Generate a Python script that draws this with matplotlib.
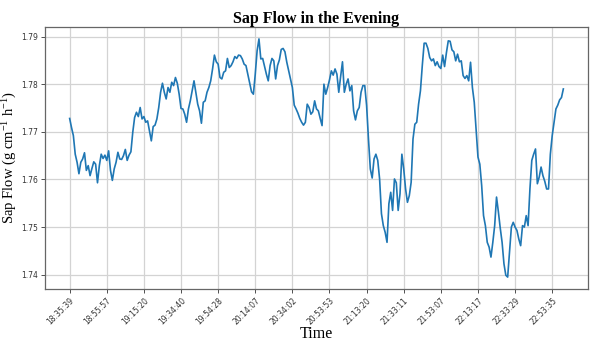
import matplotlib
matplotlib.use("Agg")
import matplotlib.pyplot as plt

# Time stamps shown on the x axis (one label every 20 samples)
time_labels = ["18:35:39", "18:55:57", "19:15:20", "19:34:40", "19:54:28",
               "20:14:07", "20:34:02", "20:53:53", "21:13:20", "21:33:11",
               "21:53:07", "22:13:17", "22:33:29", "22:53:35"]
label_step = 20

# Sap flow readings (g cm-1 h-1)
sap_flow = [
    1.7728, 1.7709, 1.7692, 1.7653, 1.7636, 1.7612, 1.7636, 1.7643, 1.7656, 1.7619,
    1.7629, 1.7608, 1.7623, 1.7637, 1.7632, 1.7593, 1.7629, 1.7653, 1.7644, 1.7651,
    1.7640, 1.7660, 1.7619, 1.7598, 1.7622, 1.7636, 1.7657, 1.7643, 1.7642, 1.7650,
    1.7663, 1.7640, 1.7651, 1.7658, 1.7699, 1.7730, 1.7741, 1.7732, 1.7751, 1.7727,
    1.7732, 1.7720, 1.7723, 1.7702, 1.7681, 1.7711, 1.7714, 1.7727, 1.7751, 1.7783,
    1.7802, 1.7783, 1.7769, 1.7793, 1.7783, 1.7804, 1.7797, 1.7814, 1.7802, 1.7779,
    1.7749, 1.7748, 1.7737, 1.7720, 1.7748, 1.7765, 1.7786, 1.7807, 1.7783, 1.7758,
    1.7744, 1.7718, 1.7762, 1.7765, 1.7783, 1.7793, 1.7807, 1.7832, 1.7861, 1.7847,
    1.7842, 1.7814, 1.7811, 1.7825, 1.7828, 1.7854, 1.7835, 1.7839, 1.7847, 1.7858,
    1.7854, 1.7861, 1.7860, 1.7853, 1.7842, 1.7839, 1.7821, 1.7802, 1.7784, 1.7779,
    1.7821, 1.7870, 1.7895, 1.7853, 1.7854, 1.7837, 1.7821, 1.7807, 1.7839, 1.7854,
    1.7849, 1.7811, 1.7839, 1.7851, 1.7873, 1.7875, 1.7868, 1.7846, 1.7828, 1.7811,
    1.7793, 1.7756, 1.7748, 1.7739, 1.7728, 1.7720, 1.7714, 1.7720, 1.7758, 1.7751,
    1.7737, 1.7742, 1.7765, 1.7748, 1.7744, 1.7728, 1.7713, 1.7800, 1.7779, 1.7793,
    1.7809, 1.7828, 1.7819, 1.7832, 1.7821, 1.7783, 1.7816, 1.7847, 1.7783, 1.7800,
    1.7811, 1.7786, 1.7797, 1.7744, 1.7725, 1.7744, 1.7751, 1.7783, 1.7797, 1.7797,
    1.7755, 1.7685, 1.7622, 1.7603, 1.7643, 1.7653, 1.7640, 1.7601, 1.7528, 1.7503,
    1.7489, 1.7468, 1.7549, 1.7573, 1.7535, 1.7601, 1.7593, 1.7535, 1.7570, 1.7653,
    1.7622, 1.7580, 1.7552, 1.7566, 1.7594, 1.7685, 1.7716, 1.7720, 1.7758, 1.7786,
    1.7839, 1.7886, 1.7886, 1.7875, 1.7856, 1.7849, 1.7853, 1.7839, 1.7847, 1.7837,
    1.7833, 1.7861, 1.7837, 1.7866, 1.7891, 1.7890, 1.7872, 1.7868, 1.7849, 1.7863,
    1.7847, 1.7849, 1.7818, 1.7812, 1.7818, 1.7807, 1.7846, 1.7793, 1.7762, 1.7706,
    1.7647, 1.7632, 1.7587, 1.7524, 1.7503, 1.7468, 1.7458, 1.7437, 1.7468, 1.7503,
    1.7563, 1.7532, 1.7498, 1.7468, 1.7423, 1.7399, 1.7395, 1.7447, 1.7500, 1.7510,
    1.7500, 1.7493, 1.7475, 1.7461, 1.7503, 1.7500, 1.7524, 1.7503, 1.7580, 1.7640,
    1.7653, 1.7664, 1.7591, 1.7605, 1.7626, 1.7608, 1.7596, 1.7580, 1.7580, 1.7653,
    1.7692, 1.7720, 1.7748, 1.7756, 1.7767, 1.7772, 1.7790,
]

serif = ["Liberation Serif", "DejaVu Serif"]
plt.rcParams["mathtext.default"] = "regular"

fig = plt.figure(figsize=(6.11, 3.45), dpi=100)
ax = fig.add_axes([0.0736, 0.1623, 0.8888, 0.7594])

x = list(range(len(sap_flow)))
ax.plot(x, sap_flow, color="#1f77b4", linewidth=1.2)

tick_pos = [i * label_step for i in range(len(time_labels))]
ax.set_xticks(tick_pos)
ax.set_xticklabels(time_labels, rotation=45, ha="right", rotation_mode="anchor",
                   fontsize=5.5)
ax.set_yticks([1.74, 1.75, 1.76, 1.77, 1.78, 1.79])
ax.set_yticklabels(["1.74", "1.75", "1.76", "1.77", "1.78", "1.79"], fontsize=5.5)
ax.tick_params(axis="both", length=3, width=0.6, colors="#333333", pad=2)

ax.grid(True, color="#d3d3d3", linewidth=0.9)
ax.set_axisbelow(True)
for s in ax.spines.values():
    s.set_color("#666666")
    s.set_linewidth(0.9)

ax.set_title("Sap Flow in the Evening", fontsize=11.5, fontweight="bold",
             family=serif, pad=3)
ax.set_xlabel("Time", fontsize=11.5, family=serif, labelpad=0)
ax.set_ylabel("Sap Flow (g cm$^{-1}$ h$^{-1}$)", fontsize=10.5, family=serif)
ax.yaxis.set_label_coords(-0.047, 0.5)

fig.savefig("out.png", dpi=100)
